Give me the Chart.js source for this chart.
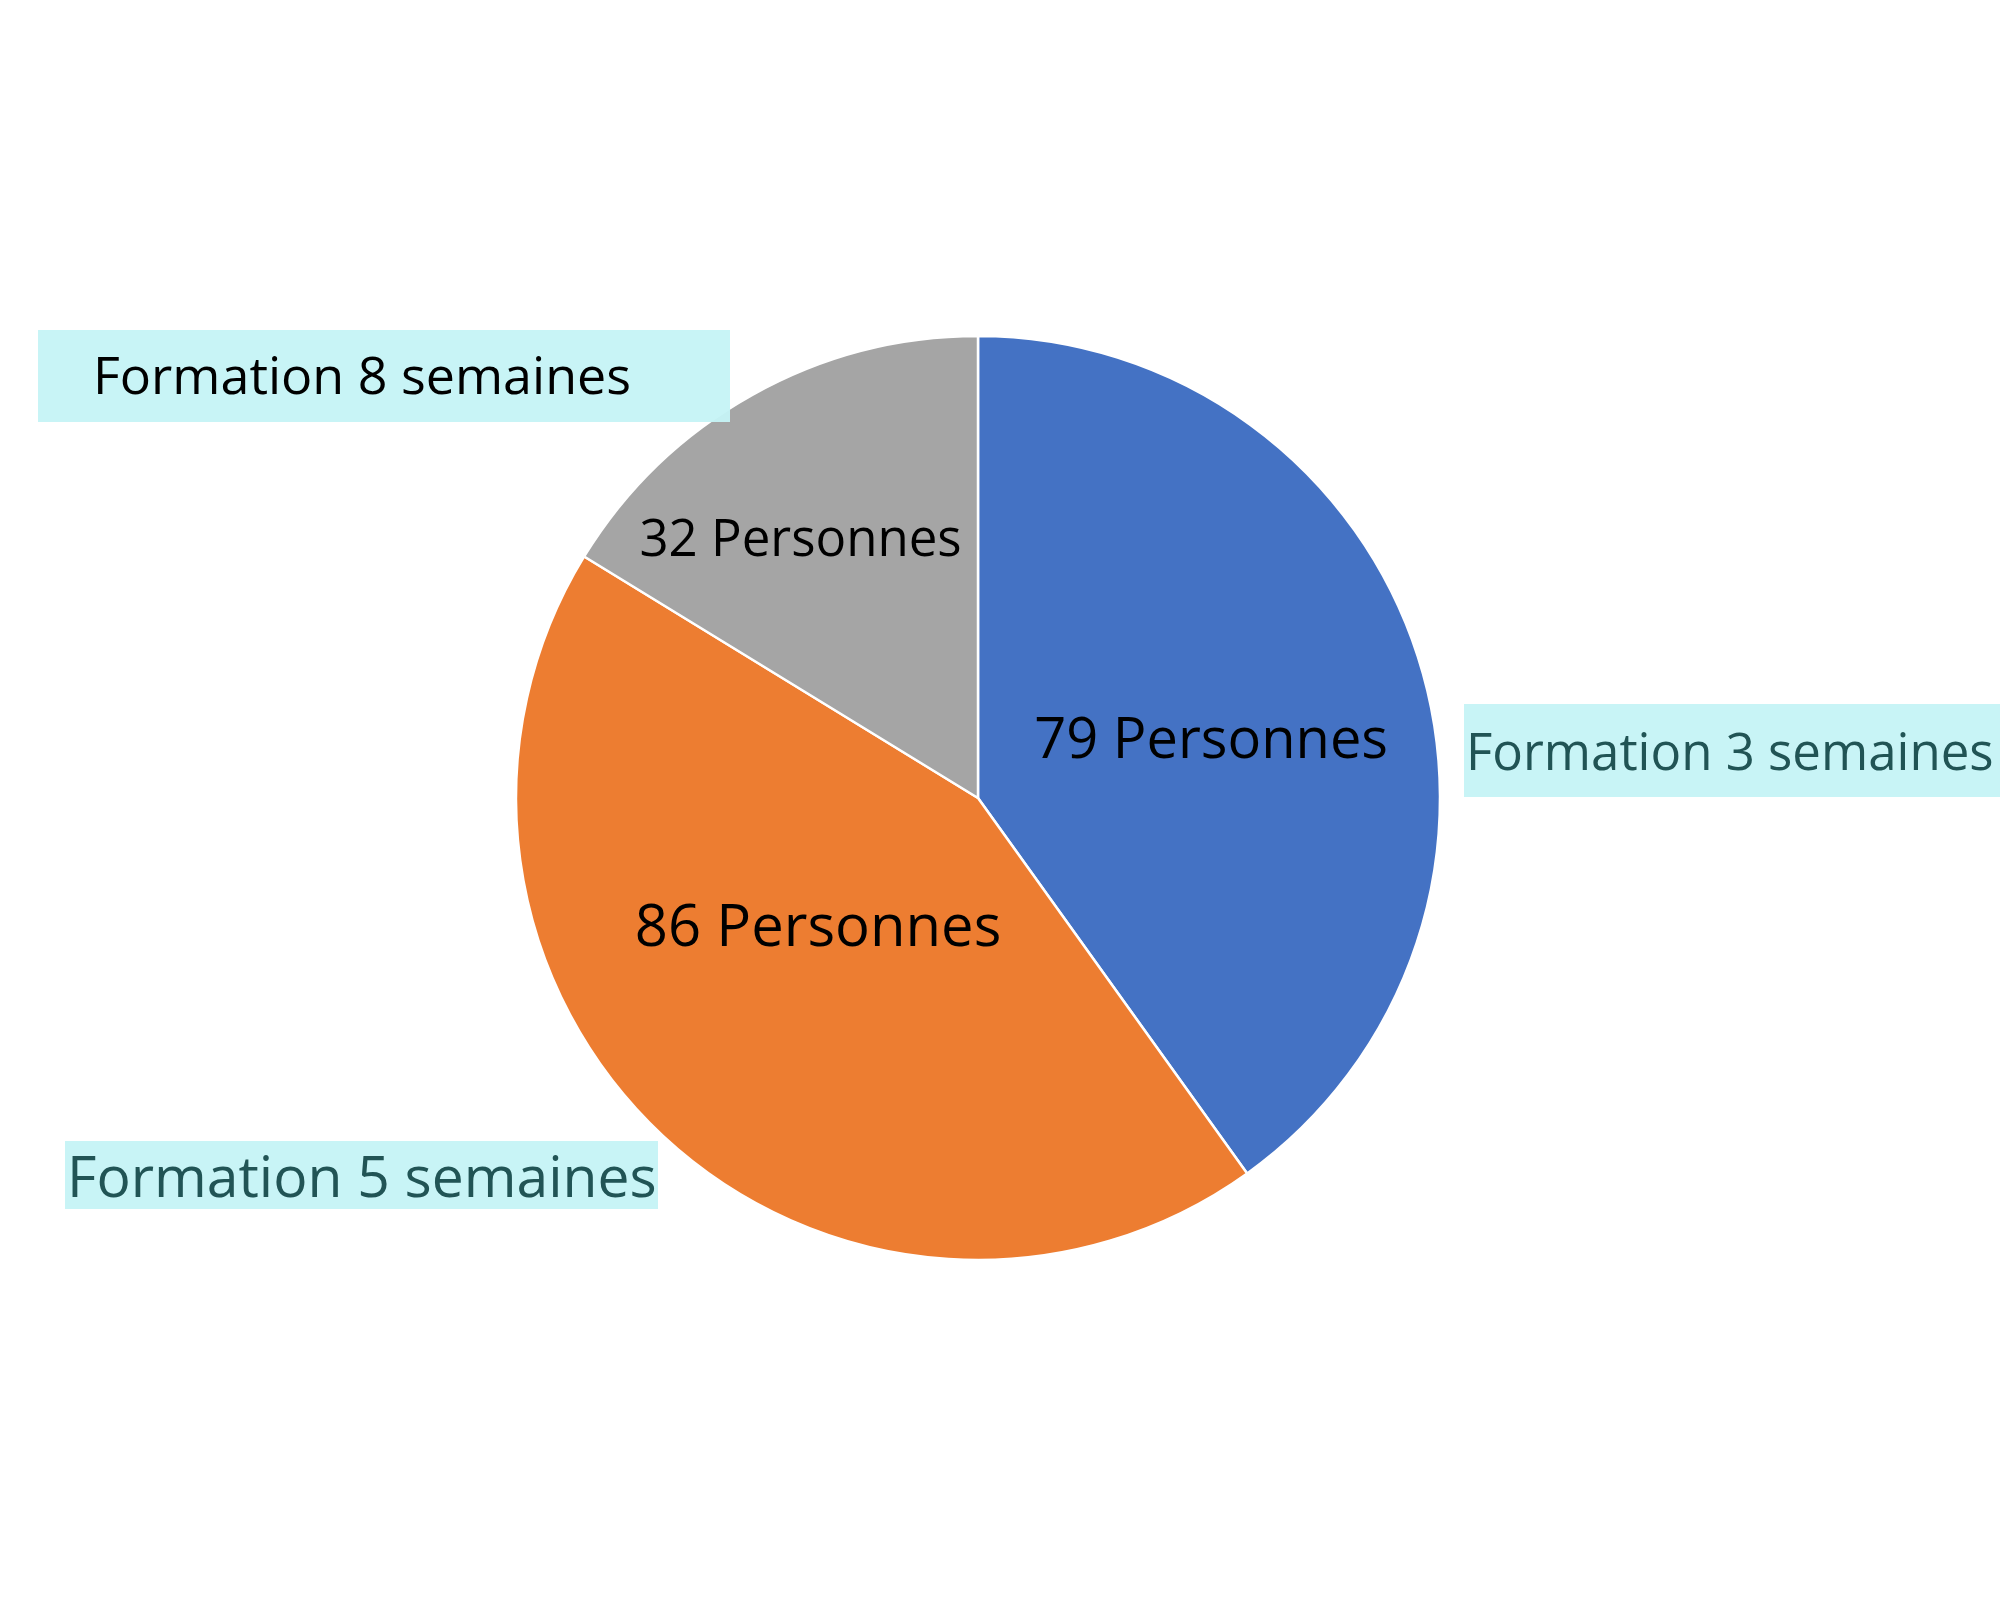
<!DOCTYPE html>
<html>
<head>
<meta charset="utf-8">
<script src="https://cdn.jsdelivr.net/npm/chart.js@4/dist/chart.umd.min.js"></script>
<style>
  html, body { margin: 0; padding: 0; background: #fff; }
  #wrap { width: 2000px; height: 1600px; }
</style>
</head>
<body>
<div id="wrap"><canvas id="pie" width="2000" height="1600"></canvas></div>
<script>
// data
const categories = ["Formation 3 semaines", "Formation 5 semaines", "Formation 8 semaines"];
const personnes = [79, 86, 32];
const unit = "Personnes";
const colors = ["#4472C4", "#ED7D31", "#A5A5A5"];

// where the value labels sit: fraction of radius, small turn in degrees, font size
const valueLabelStyle = [
  { r: 0.521, turn: 3.4, size: 56 },
  { r: 0.442, turn: 8.6, size: 58 },
  { r: 0.681, turn: -5.1, size: 51 },
];

// the category boxes (cyan) placed around the pie
const boxStyle = [
  { x: 1464, y: 704, w: 536, h: 93, tx: 1466, ty: 770, size: 51, color: "#215455" },
  { x: 65, y: 1141, w: 593, h: 68, tx: 67, ty: 1197, size: 57, color: "#215455" },
  { x: 38, y: 330, w: 692, h: 92, tx: 93, ty: 394, size: 52, color: "#000000" },
];

const labelPlugin = {
  id: "pieLabels",
  afterDatasetsDraw(chart) {
    const ctx = chart.ctx;
    const meta = chart.getDatasetMeta(0);
    ctx.save();
    // value labels inside slices
    meta.data.forEach((arc, i) => {
      const st = valueLabelStyle[i];
      const mid = (arc.startAngle + arc.endAngle) / 2 + st.turn * Math.PI / 180;
      const d = arc.outerRadius * st.r;
      const x = arc.x + Math.cos(mid) * d;
      const y = arc.y + Math.sin(mid) * d;
      ctx.font = st.size + "px 'Open Sans'";
      ctx.fillStyle = "#000";
      ctx.textAlign = "center";
      ctx.textBaseline = "alphabetic";
      ctx.fillText(personnes[i] + " " + unit, x, y + st.size * 0.357);
    });
    // category boxes
    categories.forEach((name, i) => {
      const b = boxStyle[i];
      ctx.globalAlpha = 0.95;
      ctx.fillStyle = "#C5F3F5";
      ctx.fillRect(b.x, b.y, b.w, b.h);
      ctx.globalAlpha = 1;
      ctx.font = b.size + "px 'Open Sans'";
      ctx.fillStyle = b.color;
      ctx.textAlign = "left";
      ctx.textBaseline = "alphabetic";
      ctx.fillText(name, b.tx, b.ty);
    });
    ctx.restore();
  },
};

new Chart(document.getElementById("pie"), {
  type: "pie",
  data: {
    labels: categories,
    datasets: [
      {
        data: personnes,
        backgroundColor: colors,
        borderColor: "#ffffff",
        borderWidth: 2.5,
      },
    ],
  },
  options: {
    responsive: false,
    animation: false,
    devicePixelRatio: 1,
    radius: 462,
    layout: { padding: { left: 0, top: 0, right: 44, bottom: 4 } },
    plugins: {
      legend: { display: false },
      tooltip: { enabled: false },
      title: { display: false },
    },
  },
  plugins: [labelPlugin],
});
</script>
</body>
</html>
